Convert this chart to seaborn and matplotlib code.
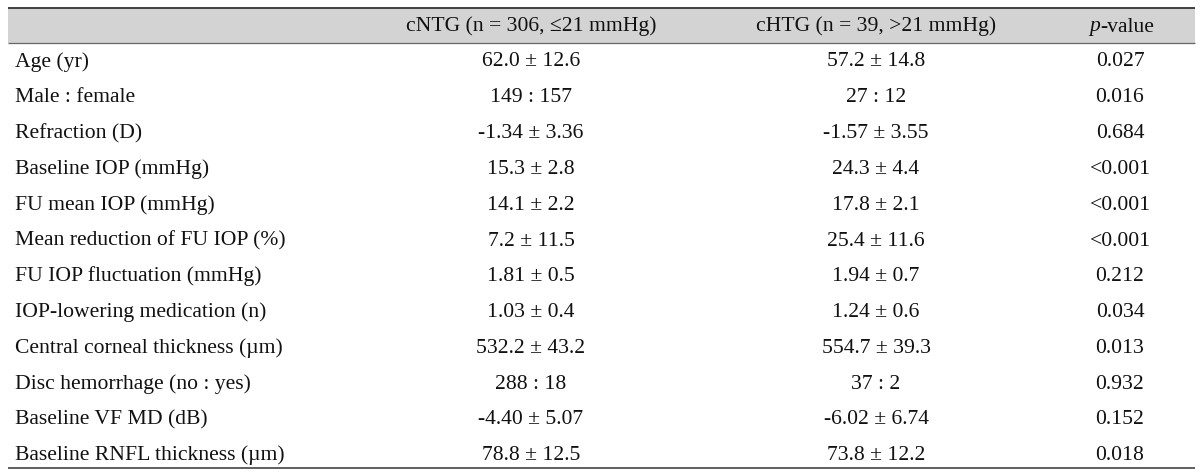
import matplotlib
matplotlib.use('Agg')
import matplotlib.pyplot as plt
import seaborn as sns
import pandas as pd

# table contents
variables = ['Age (yr)', 'Male : female', 'Refraction (D)', 'Baseline IOP (mmHg)',
             'FU mean IOP (mmHg)', 'Mean reduction of FU IOP (%)',
             'FU IOP fluctuation (mmHg)', 'IOP-lowering medication (n)',
             'Central corneal thickness (\u00b5m)', 'Disc hemorrhage (no : yes)',
             'Baseline VF MD (dB)', 'Baseline RNFL thickness (\u00b5m)']
cntg = ['62.0 \u00b1 12.6', '149 : 157', '-1.34 \u00b1 3.36', '15.3 \u00b1 2.8',
        '14.1 \u00b1 2.2', '7.2 \u00b1 11.5', '1.81 \u00b1 0.5', '1.03 \u00b1 0.4',
        '532.2 \u00b1 43.2', '288 : 18', '-4.40 \u00b1 5.07', '78.8 \u00b1 12.5']
chtg = ['57.2 \u00b1 14.8', '27 : 12', '-1.57 \u00b1 3.55', '24.3 \u00b1 4.4',
        '17.8 \u00b1 2.1', '25.4 \u00b1 11.6', '1.94 \u00b1 0.7', '1.24 \u00b1 0.6',
        '554.7 \u00b1 39.3', '37 : 2', '-6.02 \u00b1 6.74', '73.8 \u00b1 12.2']
pvals = ['0.027', '0.016', '0.684', '<0.001', '<0.001', '<0.001',
         '0.212', '0.034', '0.013', '0.932', '0.152', '0.018']
headers = ['cNTG (n = 306, \u226421 mmHg)', 'cHTG (n = 39, >21 mmHg)']

df = pd.DataFrame({'var': variables, 'cntg': cntg, 'chtg': chtg, 'p': pvals})

sns.set_style('white')
plt.rcParams['font.family'] = ['Liberation Serif', 'DejaVu Serif']
fs = 15.6

fig = plt.figure(figsize=(12, 4.76), dpi=100)
ax = fig.add_axes([0, 0, 1, 1])
ax.set_xlim(0, 1200)
ax.set_ylim(476, 0)
ax.axis('off')

x0, x1 = 8, 1195
col_x = [531, 876, 1120]
txt = '#111111'

# header band and rules
ax.fill_between([x0, x1], 8, 43, color='#d3d3d3', lw=0)
ax.hlines(7.5, x0, x1, color='#333333', lw=1.3)
ax.hlines(43, x0, x1, color='#666666', lw=0.9)
ax.hlines(468, x0, x1, color='#444444', lw=1.2)

hy = 31.5
kw = dict(va='baseline', fontsize=fs, color=txt)
ax.text(col_x[0], hy, headers[0], ha='center', **kw)
ax.text(col_x[1], hy, headers[1], ha='center', **kw)
ax.text(col_x[2] - 31, hy, 'p', ha='left', style='italic', **kw)
ax.text(col_x[2] - 31 + 11, hy, '-value', ha='left', **kw)

y0, dy = 66.5, 35.8
for i, row in df.iterrows():
    y = y0 + i * dy
    ax.text(15, y, row['var'], ha='left', **kw)
    ax.text(col_x[0], y, row['cntg'], ha='center', **kw)
    ax.text(col_x[1], y, row['chtg'], ha='center', **kw)
    ax.text(col_x[2], y, row['p'], ha='center', **kw)

fig.savefig('out.png', dpi=100)
